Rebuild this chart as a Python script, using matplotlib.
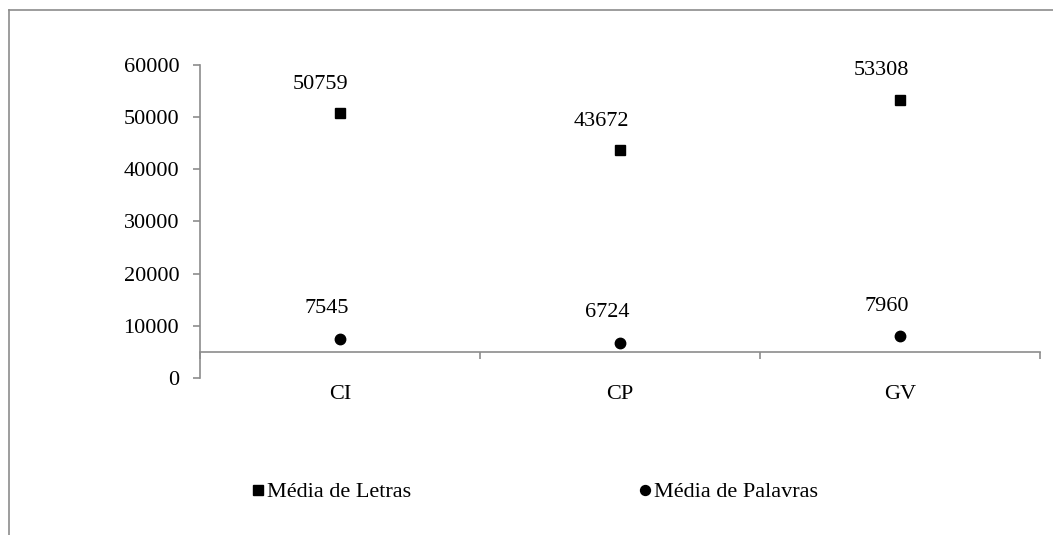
import matplotlib.pyplot as plt
from matplotlib.lines import Line2D

plt.rcParams['font.family'] = ['Liberation Serif', 'DejaVu Serif']
fontSize = 16
gray = '#8c8c8c'

categories = ['CI', 'CP', 'GV']
media_letras = [50759, 43672, 53308]
media_palavras = [7545, 6724, 7960]
y_ticks = [0, 10000, 20000, 30000, 40000, 50000, 60000]

fig = plt.figure(figsize=(10.53, 5.35), dpi=100)
ax = fig.add_axes([200 / 1053, 1 - 378 / 535, 840 / 1053, 313 / 535])

x = list(range(len(categories)))
ax.plot(x, media_letras, 's', color='black', markersize=7.5, label='Média de Letras')
ax.plot(x, media_palavras, 'o', color='black', markersize=7.5, label='Média de Palavras')

# data labels, placed up and to the left like the original
for xi, v in zip(x, media_letras):
    ax.annotate(str(v), (xi, v), xytext=(-19, 29), textcoords='offset pixels',
                ha='center', va='center', fontsize=fontSize)
for xi, v in zip(x, media_palavras):
    ax.annotate(str(v), (xi, v), xytext=(-13, 30), textcoords='offset pixels',
                ha='center', va='center', fontsize=fontSize)

ax.set_xlim(-0.5, 2.5)
ax.set_ylim(0, 60000)
ax.set_yticks(y_ticks)
ax.set_yticklabels([str(t) for t in y_ticks])
ax.set_xticks(x)
ax.set_xticklabels(categories)
ax.set_xticks([-0.5, 0.5, 1.5, 2.5], minor=True)

for s in ['top', 'right']:
    ax.spines[s].set_visible(False)
ax.spines['left'].set_color(gray)
ax.spines['bottom'].set_color(gray)
ax.spines['bottom'].set_position(('data', 5000))
ax.spines['left'].set_linewidth(1.2)
ax.spines['bottom'].set_linewidth(1.2)

ax.tick_params(axis='y', length=5, width=1.2, color=gray, pad=10, labelsize=fontSize)
ax.tick_params(axis='x', which='major', length=0, pad=24, labelsize=fontSize)
ax.tick_params(axis='x', which='minor', length=5, width=1.2, color=gray, direction='out')
ax.patch.set_visible(False)

fig.legend(loc='center left', bbox_to_anchor=(245 / 1053, 1 - 492 / 535), ncol=2,
           frameon=False, fontsize=fontSize, handlelength=0.4, handletextpad=0.2,
           columnspacing=10.3, markerscale=0.95, borderaxespad=0)

# outer chart border (top and left edges)
fig.add_artist(Line2D([9 / 1053, 1], [1 - 10 / 535, 1 - 10 / 535], color=gray, lw=1.2))
fig.add_artist(Line2D([9 / 1053, 9 / 1053], [0, 1 - 10 / 535], color=gray, lw=1.2))

plt.savefig('out.png')
plt.close()
